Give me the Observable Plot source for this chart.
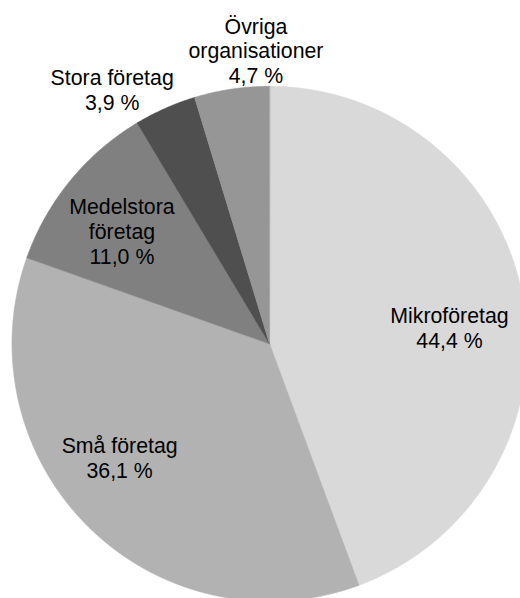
<!DOCTYPE html>
<html>
<head>
<meta charset="utf-8">
<script src="https://cdn.jsdelivr.net/npm/d3@7"></script>
<script src="https://cdn.jsdelivr.net/npm/@observablehq/plot@0.6"></script>
<style>
  html, body { margin: 0; padding: 0; background: #fff; overflow: hidden; }
  #chart svg { display: block; overflow: hidden; }
</style>
</head>
<body>
<div id="chart"></div>
<script>
// ---- Data ----
const categories = ["Mikroföretag", "Små företag", "Medelstora företag", "Stora företag", "Övriga organisationer"];
const shares = [44.4, 36.1, 11.0, 3.9, 4.7];
const labelText = ["Mikroföretag", "Små företag", "Medelstora\nföretag", "Stora företag", "Övriga\norganisationer"];
const sliceColors = ["#d9d9d9", "#b2b2b2", "#808080", "#4f4f4f", "#969696"];

// ---- Layout (label anchors in pie-radius units, relative to centre) ----
const labelOffsetX = [0.699, -0.582, -0.573, -0.611, -0.0525];
const labelOffsetY = [0.0615, -0.442, 0.438, 0.988, 1.139];

const W = 520, H = 598;
const cx = 269, cy = 343.3, R = 257.5;

const rows = categories.map((c, i) => ({category: c, share: shares[i]}));
const arcs = d3.pie().sort(null).value(d => d.share)(rows);

// polygon outline of each slice, in unit-radius coordinates
const poly = [];
arcs.forEach(a => {
  const c = a.data.category;
  poly.push({category: c, X: 0, Y: 0});
  const n = Math.max(2, Math.ceil((a.endAngle - a.startAngle) / (Math.PI / 720)));
  for (let k = 0; k <= n; k++) {
    const t = a.startAngle + (a.endAngle - a.startAngle) * k / n;
    poly.push({category: c, X: Math.sin(t), Y: Math.cos(t)});
  }
});

const labels = rows.map((d, i) => ({
  text: labelText[i] + "\n" + d3.format(".1f")(d.share).replace(".", ",") + " %",
  X: labelOffsetX[i],
  Y: labelOffsetY[i]
}));

const chart = Plot.plot({
  width: W,
  height: H,
  margin: 0,
  style: {background: "#fff", overflow: "hidden"},
  x: {domain: [(0 - cx) / R, (W - cx) / R], axis: null},
  y: {domain: [(cy - H) / R, cy / R], axis: null},
  color: {type: "ordinal", domain: categories, range: sliceColors},
  marks: [
    Plot.line(poly, {
      x: "X", y: "Y", z: "category",
      fill: "category", stroke: "category", strokeWidth: 0.6,
      curve: "linear-closed", clip: true
    }),
    Plot.text(labels, {
      x: "X", y: "Y", text: "text",
      fill: "#000",
      fontSize: 21.3,
      fontFamily: "Liberation Sans, Arial, sans-serif",
      lineHeight: 1.17,
      textAnchor: "middle"
    })
  ]
});
document.getElementById("chart").appendChild(chart);
</script>
</body>
</html>
